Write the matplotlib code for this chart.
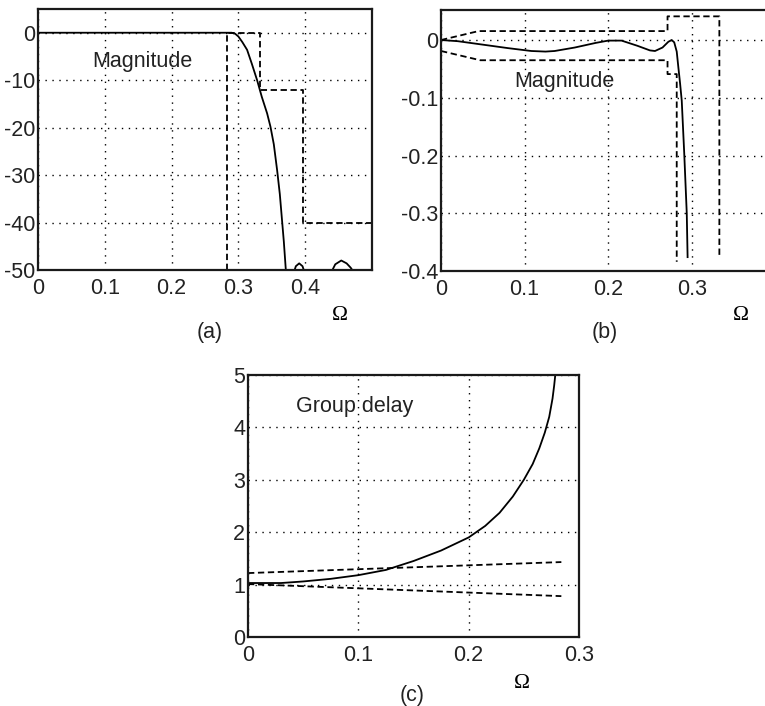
import matplotlib
matplotlib.use("Agg")
import matplotlib.pyplot as plt

plt.rcParams['font.family'] = ['Liberation Sans', 'DejaVu Sans']

# ---------------- data ----------------
# (a) magnitude in dB
a_omega = [0, 0.290, 0.295, 0.300, 0.306, 0.313, 0.320, 0.328, 0.335, 0.343, 0.348,
           0.353, 0.358, 0.362, 0.365, 0.368, 0.371, 0.376,
           0.380, 0.383, 0.386, 0.391, 0.396, 0.399, 0.405, 0.420, 0.435, 0.439,
           0.445, 0.454, 0.462, 0.468, 0.473, 0.480, 0.500]
a_mag = [0, 0, -0.2, -0.8, -2.0, -3.6, -6.5, -10, -13.5, -17, -19.8,
         -23.5, -29, -34, -39, -44, -50, -58,
         -55, -50.5, -49.2, -48.6, -49.2, -50.5, -56, -60, -55, -50.5,
         -48.8, -48.0, -48.6, -49.5, -50.5, -55, -60]
a_spec_x = [0.283, 0.283, 0.332, 0.332, 0.396, 0.396, 0.5]
a_spec_y = [-50, 0, 0, -12, -12, -40, -40]
a_xticks = [0, 0.1, 0.2, 0.3, 0.4]
a_xlabels = ['0', '0.1', '0.2', '0.3', '0.4']
a_yticks = [-50, -40, -30, -20, -10, 0]
a_ylabels = ['-50', '-40', '-30', '-20', '-10', '0']

# (b) passband magnitude (linear deviation)
b_omega = [0, 0.02, 0.05, 0.08, 0.108, 0.125, 0.136, 0.16, 0.185, 0.2, 0.216,
           0.235, 0.25, 0.256, 0.265, 0.272, 0.276, 0.279, 0.282, 0.284, 0.286,
           0.288, 0.291, 0.294, 0.295]
b_mag = [0, -0.002, -0.008, -0.014, -0.019, -0.020, -0.019, -0.013, -0.005, -0.001,
         -0.001, -0.010, -0.018, -0.019, -0.013, -0.003, 0, -0.004, -0.020, -0.048,
         -0.075, -0.105, -0.197, -0.300, -0.376]
b_up_x = [0, 0.045, 0.271, 0.271, 0.333, 0.333]
b_up_y = [0, 0.0155, 0.0155, 0.041, 0.041, -0.377]
b_lo_x = [0, 0.047, 0.271, 0.271, 0.282, 0.282]
b_lo_y = [-0.019, -0.035, -0.035, -0.059, -0.059, -0.384]
b_xticks = [0, 0.1, 0.2, 0.3]
b_xlabels = ['0', '0.1', '0.2', '0.3']
b_yticks = [-0.4, -0.3, -0.2, -0.1, 0]
b_ylabels = ['-0.4', '-0.3', '-0.2', '-0.1', '0']

# (c) group delay
c_omega = [0, 0.03, 0.05, 0.075, 0.1, 0.125, 0.15, 0.175, 0.2, 0.215, 0.228, 0.24,
           0.25, 0.258, 0.264, 0.269, 0.273, 0.276, 0.2775, 0.2785]
c_gd = [1.03, 1.03, 1.06, 1.11, 1.18, 1.28, 1.45, 1.65, 1.90, 2.12, 2.37, 2.68,
        3.0, 3.30, 3.60, 3.90, 4.20, 4.55, 4.80, 5.0]
c_up_x = [0, 0.284]
c_up_y = [1.22, 1.43]
c_lo_x = [0, 0.284]
c_lo_y = [1.01, 0.78]
c_xticks = [0, 0.1, 0.2, 0.3]
c_xlabels = ['0', '0.1', '0.2', '0.3']
c_yticks = [0, 1, 2, 3, 4, 5]
c_ylabels = ['0', '1', '2', '3', '4', '5']

# ---------------- figure ----------------
W, H = 765, 706
fig = plt.figure(figsize=(W / 100, H / 100), dpi=100)

def px_axes(l, t, r, b):
    return fig.add_axes([l / W, 1 - b / H, (r - l) / W, (b - t) / H])

FS = 15.5
TXT = '#222222'
dash = (0, (3.5, 2))

def style(ax, xt, xl, yt, yl):
    ax.set_xticks(xt)
    ax.set_xticklabels(xl)
    ax.set_yticks(yt)
    ax.set_yticklabels(yl)
    ax.tick_params(length=0, labelsize=FS, colors=TXT)
    ax.tick_params(axis='x', pad=6)
    ax.tick_params(axis='y', pad=2)
    ax.grid(True, color='black', linestyle=(0, (1, 4)), linewidth=1.0)
    for s in ax.spines.values():
        s.set_linewidth(1.6)
        s.set_color('#1a1a1a')

# (a)
ax1 = px_axes(38, 9, 372, 270)
ax1.plot(a_omega, a_mag, color='black', lw=1.3)
ax1.plot(a_spec_x, a_spec_y, color='black', lw=1.3, linestyle=dash)
ax1.set_xlim(0, 0.5)
ax1.set_ylim(-50, 5)
style(ax1, a_xticks, a_xlabels, a_yticks, a_ylabels)
ax1.text(0.156, -7.2, 'Magnitude', fontsize=FS, ha='center', va='baseline', color=TXT)
fig.text(340 / W, 1 - 316 / H, 'Ω', fontsize=FS, family='Liberation Serif', ha='center', va='center')
fig.text(210 / W, 1 - 333 / H, '(a)', fontsize=FS, ha='center', va='center', color=TXT)

# (b)
ax2 = px_axes(441, 10, 765, 271)
ax2.plot(b_omega, b_mag, color='black', lw=1.3)
ax2.plot(b_up_x, b_up_y, color='black', lw=1.3, linestyle=dash)
ax2.plot(b_lo_x, b_lo_y, color='black', lw=1.3, linestyle=dash)
ax2.set_xlim(0, 0.3876)
ax2.set_ylim(-0.4, 0.052)
style(ax2, b_xticks, b_xlabels, b_yticks, b_ylabels)
ax2.spines['right'].set_visible(False)
ax2.text(0.148, -0.081, 'Magnitude', fontsize=FS, ha='center', va='baseline', color=TXT)
fig.text(741 / W, 1 - 316 / H, 'Ω', fontsize=FS, family='Liberation Serif', ha='center', va='center')
fig.text(605 / W, 1 - 333 / H, '(b)', fontsize=FS, ha='center', va='center', color=TXT)

# (c)
ax3 = px_axes(248, 375, 579, 637)
ax3.plot(c_omega, c_gd, color='black', lw=1.3)
ax3.plot(c_up_x, c_up_y, color='black', lw=1.3, linestyle=dash)
ax3.plot(c_lo_x, c_lo_y, color='black', lw=1.3, linestyle=dash)
ax3.set_xlim(0, 0.3)
ax3.set_ylim(0, 5)
style(ax3, c_xticks, c_xlabels, c_yticks, c_ylabels)
ax3.text(0.097, 4.29, 'Group delay', fontsize=FS, ha='center', va='baseline', color=TXT)
fig.text(522 / W, 1 - 683 / H, 'Ω', fontsize=FS, family='Liberation Serif', ha='center', va='center')
fig.text(412 / W, 1 - 695 / H, '(c)', fontsize=FS, ha='center', va='center', color=TXT)

fig.savefig('out.png', dpi=100)
